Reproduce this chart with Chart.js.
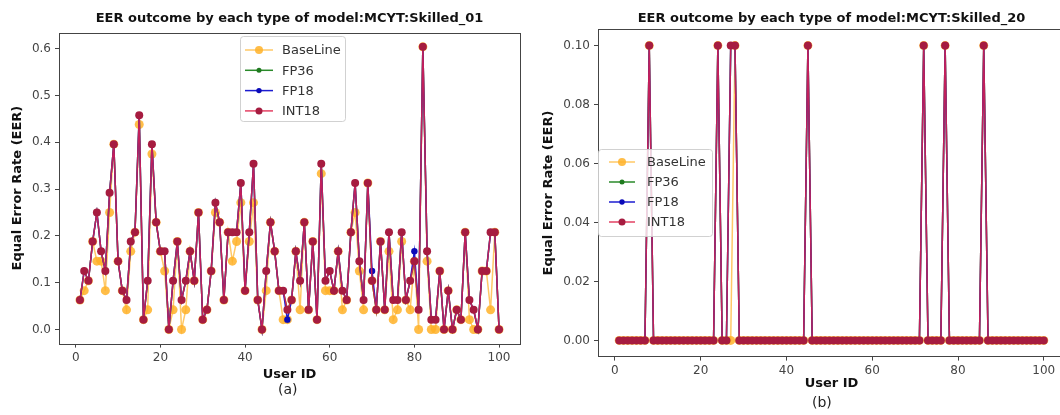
<!DOCTYPE html>
<html><head><meta charset="utf-8">
<script src="https://cdn.jsdelivr.net/npm/chart.js@4.4.0/dist/chart.umd.min.js"></script>
<style>
html,body{margin:0;padding:0;background:#fff;width:1060px;height:415px;overflow:hidden;position:relative;font-family:"DejaVu Sans",sans-serif}
.box{position:absolute}
.cap{position:absolute;font-size:14px;color:#222;font-family:"DejaVu Sans",sans-serif;line-height:17px}
</style></head><body>
<div class="box" style="left:0;top:0;width:530px;height:415px"><canvas id="c1"></canvas></div>
<div class="box" style="left:536px;top:0;width:540px;height:415px"><canvas id="c2"></canvas></div>
<div class="cap" style="left:278px;top:381px">(a)</div>
<div class="cap" style="left:812px;top:394px">(b)</div>
<script>
const userIds = [1,2,3,4,5,6,7,8,9,10,11,12,13,14,15,16,17,18,19,20,21,22,23,24,25,26,27,28,29,30,31,32,33,34,35,36,37,38,39,40,41,42,43,44,45,46,47,48,49,50,51,52,53,54,55,56,57,58,59,60,61,62,63,64,65,66,67,68,69,70,71,72,73,74,75,76,77,78,79,80,81,82,83,84,85,86,87,88,89,90,91,92,93,94,95,96,97,98,99,100];
const seriesNames = ["BaseLine","FP36","FP18","INT18"];
const xTickValues = [0,20,40,60,80,100];
const yTicks01 = [0,0.1,0.2,0.3,0.4,0.5,0.6];
const yTicks20 = [0,0.02,0.04,0.06,0.08,0.1];

const baseline01 = [0.063,0.083,0.104,0.188,0.146,0.146,0.083,0.25,0.396,0.146,
0.083,0.042,0.167,0.208,0.438,0.021,0.042,0.375,0.229,0.167,
0.125,0,0.042,0.188,0,0.042,0.167,0.104,0.25,0.021,
0.042,0.125,0.25,0.229,0.063,0.208,0.146,0.188,0.271,0.083,
0.188,0.271,0.063,0,0.083,0.229,0.167,0.083,0.021,0.021,
0.063,0.167,0.042,0.229,0.042,0.188,0.021,0.333,0.083,0.083,
0.083,0.167,0.042,0.063,0.208,0.25,0.125,0.042,0.313,0.104,
0.042,0.188,0.042,0.167,0.021,0.042,0.188,0.063,0.042,0.146,
0,0.604,0.146,0,0,0.125,0,0.083,0,0.042,
0.021,0.208,0.021,0,0,0.125,0.125,0.042,0.208,0];
const fp36_01 = [0.063,0.125,0.104,0.188,0.25,0.167,0.125,0.292,0.396,0.146,
0.083,0.063,0.188,0.208,0.458,0.021,0.104,0.396,0.229,0.167,
0.167,0,0.104,0.188,0.063,0.104,0.167,0.104,0.25,0.021,
0.042,0.125,0.271,0.229,0.063,0.208,0.208,0.208,0.313,0.083,
0.208,0.354,0.063,0,0.125,0.229,0.167,0.083,0.083,0.042,
0.063,0.167,0.104,0.229,0.042,0.188,0.021,0.354,0.104,0.125,
0.083,0.167,0.083,0.063,0.208,0.313,0.146,0.063,0.313,0.104,
0.042,0.188,0.042,0.208,0.063,0.063,0.208,0.063,0.104,0.146,
0.042,0.604,0.167,0.021,0.021,0.125,0,0.083,0,0.042,
0.021,0.208,0.063,0.042,0,0.125,0.125,0.208,0.208,0];
const fp18_01 = [0.063,0.125,0.104,0.188,0.25,0.167,0.125,0.292,0.396,0.146,
0.083,0.063,0.188,0.208,0.458,0.021,0.104,0.396,0.229,0.167,
0.167,0,0.104,0.188,0.063,0.104,0.167,0.104,0.25,0.021,
0.042,0.125,0.271,0.229,0.063,0.208,0.208,0.208,0.313,0.083,
0.208,0.354,0.063,0,0.125,0.229,0.167,0.083,0.083,0.021,
0.063,0.167,0.104,0.229,0.042,0.188,0.021,0.354,0.104,0.125,
0.083,0.167,0.083,0.063,0.208,0.313,0.146,0.063,0.313,0.125,
0.042,0.188,0.042,0.208,0.063,0.063,0.208,0.063,0.104,0.167,
0.042,0.604,0.167,0.021,0.021,0.125,0,0.083,0,0.042,
0.021,0.208,0.063,0.042,0,0.125,0.125,0.208,0.208,0];
const int18_01 = [0.063,0.125,0.104,0.188,0.25,0.167,0.125,0.292,0.396,0.146,
0.083,0.063,0.188,0.208,0.458,0.021,0.104,0.396,0.229,0.167,
0.167,0,0.104,0.188,0.063,0.104,0.167,0.104,0.25,0.021,
0.042,0.125,0.271,0.229,0.063,0.208,0.208,0.208,0.313,0.083,
0.208,0.354,0.063,0,0.125,0.229,0.167,0.083,0.083,0.042,
0.063,0.167,0.104,0.229,0.042,0.188,0.021,0.354,0.104,0.125,
0.083,0.167,0.083,0.063,0.208,0.313,0.146,0.063,0.313,0.104,
0.042,0.188,0.042,0.208,0.063,0.063,0.208,0.063,0.104,0.146,
0.042,0.604,0.167,0.021,0.021,0.125,0,0.083,0,0.042,
0.021,0.208,0.063,0.042,0,0.125,0.125,0.208,0.208,0];

const baseline20 = [0,0,0,0,0,0,0,0.1,0,0,
0,0,0,0,0,0,0,0,0,0,
0,0,0,0.1,0,0,0,0.1,0,0,
0,0,0,0,0,0,0,0,0,0,
0,0,0,0,0.1,0,0,0,0,0,
0,0,0,0,0,0,0,0,0,0,
0,0,0,0,0,0,0,0,0,0,
0,0.1,0,0,0,0,0.1,0,0,0,
0,0,0,0,0,0.1,0,0,0,0,
0,0,0,0,0,0,0,0,0,0];
const fp36_20 = [0,0,0,0,0,0,0,0.1,0,0,
0,0,0,0,0,0,0,0,0,0,
0,0,0,0.1,0,0,0.1,0.1,0,0,
0,0,0,0,0,0,0,0,0,0,
0,0,0,0,0.1,0,0,0,0,0,
0,0,0,0,0,0,0,0,0,0,
0,0,0,0,0,0,0,0,0,0,
0,0.1,0,0,0,0,0.1,0,0,0,
0,0,0,0,0,0.1,0,0,0,0,
0,0,0,0,0,0,0,0,0,0];
const fp18_20 = [0,0,0,0,0,0,0,0.1,0,0,
0,0,0,0,0,0,0,0,0,0,
0,0,0,0.1,0,0,0.1,0.1,0,0,
0,0,0,0,0,0,0,0,0,0,
0,0,0,0,0.1,0,0,0,0,0,
0,0,0,0,0,0,0,0,0,0,
0,0,0,0,0,0,0,0,0,0,
0,0.1,0,0,0,0,0.1,0,0,0,
0,0,0,0,0,0.1,0,0,0,0,
0,0,0,0,0,0,0,0,0,0];
const int18_20 = [0,0,0,0,0,0,0,0.1,0,0,
0,0,0,0,0,0,0,0,0,0,
0,0,0,0.1,0,0,0.1,0.1,0,0,
0,0,0,0,0,0,0,0,0,0,
0,0,0,0,0.1,0,0,0,0,0,
0,0,0,0,0,0,0,0,0,0,
0,0,0,0,0,0,0,0,0,0,
0,0.1,0,0,0,0,0.1,0,0,0,
0,0,0,0,0,0.1,0,0,0,0,
0,0,0,0,0,0,0,0,0,0];

Chart.defaults.font.family = "'DejaVu Sans', sans-serif";
Chart.defaults.animation = false;

const styles = [
  {line:'rgba(255,170,20,0.65)', pt:'rgba(255,178,40,0.85)', r:4.5, order:4},
  {line:'#2a8a2a', pt:'#1f7a1f', r:3, order:3},
  {line:'#1c1cd0', pt:'#0a0ab8', r:3.2, order:2},
  {line:'rgba(222,32,72,0.85)', pt:'#a61c40', r:4, order:1}
];

function buildDatasets(lists){
  return lists.map((vals,i)=>({
    label: seriesNames[i],
    data: userIds.map((u,j)=>({x:u, y:vals[j]})),
    borderColor: styles[i].line,
    backgroundColor: styles[i].pt,
    pointBackgroundColor: styles[i].pt,
    pointBorderColor: styles[i].pt,
    pointBorderWidth: 0,
    pointRadius: styles[i].r,
    borderWidth: 1.5,
    order: styles[i].order,
    tension: 0
  }));
}

const frame = {
  id:'frame',
  afterDatasetsDraw(chart){
    const {ctx, chartArea:a} = chart;
    ctx.save();
    ctx.strokeStyle = '#444'; ctx.lineWidth = 1;
    ctx.strokeRect(Math.round(a.left)+0.5, Math.round(a.top)+0.5, Math.round(a.right-a.left), Math.round(a.bottom-a.top));
    ctx.restore();
  }
};
const boxLegend = {
  id:'boxLegend',
  afterDatasetsDraw(chart, args, o){
    const ctx = chart.ctx;
    ctx.save();
    ctx.beginPath();
    ctx.roundRect(o.bx+0.5, o.by+0.5, o.bw, o.bh, 3);
    ctx.fillStyle = 'rgba(255,255,255,0.8)';
    ctx.fill();
    ctx.strokeStyle = 'rgba(204,204,204,0.9)';
    ctx.lineWidth = 1;
    ctx.stroke();
    ctx.font = o.fs + "px 'DejaVu Sans'";
    ctx.textBaseline = 'middle';
    ctx.textAlign = 'left';
    chart.data.datasets.forEach((ds,i)=>{
      const yy = o.y0 + i*o.dy;
      ctx.strokeStyle = ds.borderColor; ctx.lineWidth = 1.5;
      ctx.beginPath(); ctx.moveTo(o.x0, yy); ctx.lineTo(o.x1, yy); ctx.stroke();
      ctx.beginPath(); ctx.arc((o.x0+o.x1)/2, yy, ds.pointRadius-0.5, 0, Math.PI*2);
      ctx.fillStyle = ds.pointBackgroundColor; ctx.fill();
      ctx.fillStyle = '#333'; ctx.fillText(ds.label, o.tx, yy+1);
    });
    ctx.restore();
  }
};

function makeChart(id, lists, cfg){
  return new Chart(document.getElementById(id), {
    type:'line',
    data:{datasets: buildDatasets(lists)},
    options:{
      responsive:true, maintainAspectRatio:false, animation:false,
      layout:{padding:cfg.pad},
      plugins:{
        legend:{display:false},
        tooltip:{enabled:false},
        title:{display:true, fullSize:false, text:cfg.title, color:'#111', font:{size:13, weight:'bold', lineHeight:1.2}, padding:cfg.titlePad},
        boxLegend: cfg.legend
      },
      scales:{
        x:{type:'linear', min:-3.95, max:104.95,
          afterBuildTicks: s => { s.ticks = xTickValues.map(v=>({value:v})); },
          afterFit: s => { s.height = cfg.xh; },
          ticks:{color:'#444', font:{size:12}, padding:cfg.xtp, maxRotation:0, autoSkip:false, callback:v=>String(v)},
          grid:{display:true, drawOnChartArea:false, drawTicks:true, tickLength:4, color:'#444'},
          border:{display:false},
          title:{display:true, text:'User ID', color:'#111', font:{size:13, weight:'bold', lineHeight:1.2}, padding:{top:0, bottom:cfg.xtb}}
        },
        y:{type:'linear', min:cfg.ymin, max:cfg.ymax,
          afterBuildTicks: s => { s.ticks = cfg.yt.map(v=>({value:v})); },
          afterFit: s => { s.width = cfg.yw; },
          ticks:{color:'#444', font:{size:12}, padding:4, autoSkip:false, callback:v=>v.toFixed(cfg.dec)},
          grid:{display:true, drawOnChartArea:false, drawTicks:true, tickLength:4, color:'#444'},
          border:{display:false},
          title:{display:true, text:'Equal Error Rate (EER)', color:'#111', font:{size:13, weight:'bold', lineHeight:1.2}, padding:{top:cfg.ytp, bottom:0}}
        }
      }
    },
    plugins:[frame, boxLegend]
  });
}

makeChart('c1', [baseline01, fp36_01, fp18_01, int18_01], {
  title:'EER outcome by each type of model:MCYT:Skilled_01',
  pad:{left:0, right:10, top:0, bottom:23.4},
  titlePad:{top:10.8, bottom:6.2},
  xh:48, xtp:3, xtb:8.8,
  ymin:-0.0302, ymax:0.6344, yt:yTicks01, dec:1, yw:59, ytp:10,
  legend:{bx:240, by:36, bw:105, bh:85, x0:245, x1:273, tx:282, y0:50, dy:20.3, fs:13}
});
makeChart('c2', [baseline20, fp36_20, fp18_20, int18_20], {
  title:'EER outcome by each type of model:MCYT:Skilled_20',
  pad:{left:0, right:11, top:0, bottom:13.4},
  titlePad:{top:10.5, bottom:3.3},
  xh:45, xtp:3.4, xtb:9.8,
  ymin:-0.0055, ymax:0.1055, yt:yTicks20, dec:2, yw:62, ytp:4.5,
  legend:{bx:62, by:149, bw:114, bh:87, x0:73, x1:99, tx:111, y0:162, dy:20, fs:13}
});
</script>
</body></html>
